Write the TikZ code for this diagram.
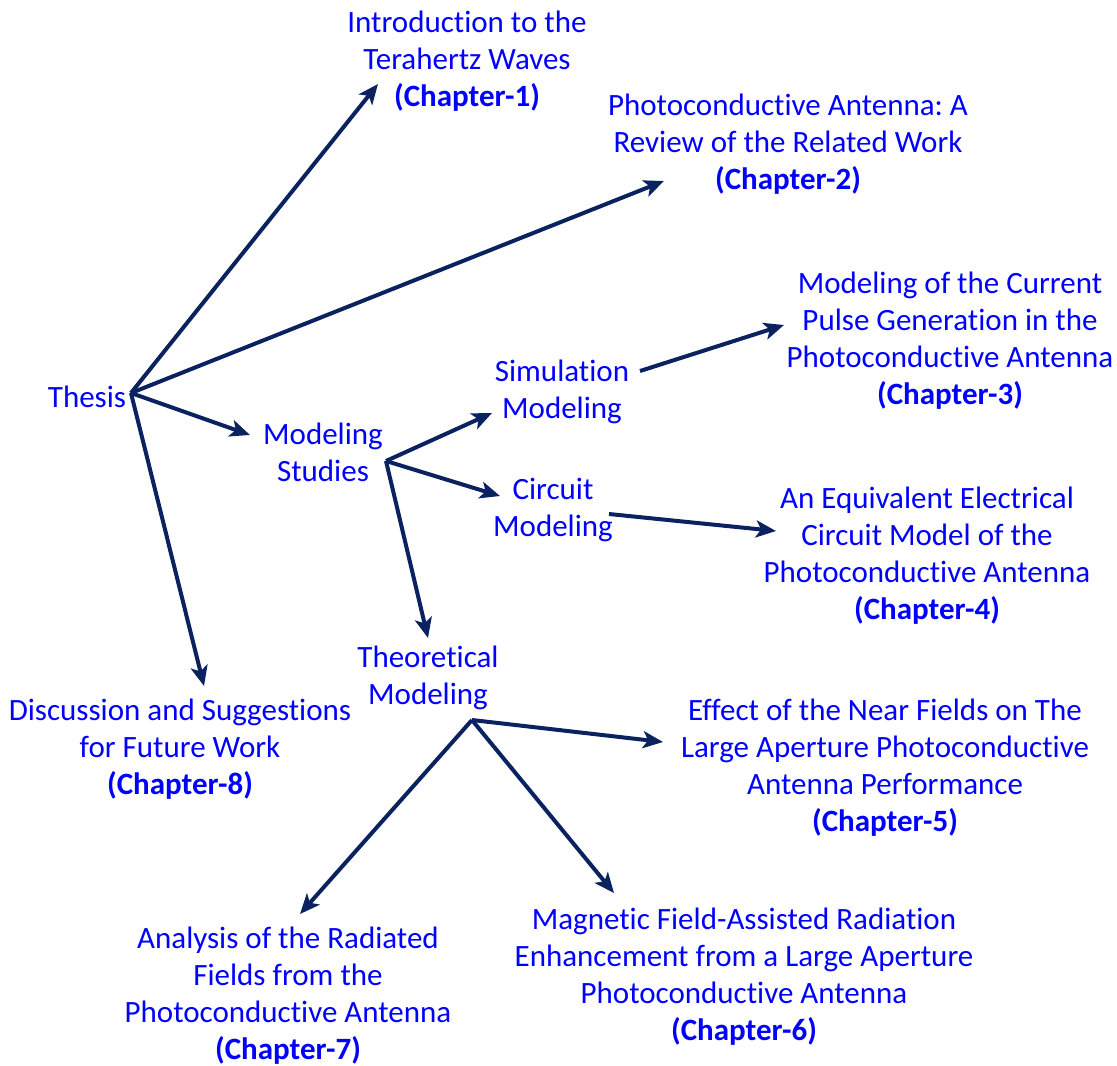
\documentclass[tikz,border=0pt]{standalone}
\usepackage{fontspec}
\setmainfont[Ligatures=NoCommon]{Carlito}
\usetikzlibrary{arrows.meta}
\definecolor{txtblue}{RGB}{0,0,255}
\definecolor{navy}{RGB}{10,34,96}
\frenchspacing
\begin{document}
\begin{tikzpicture}[x=1pt,y=-1pt,
  lbl/.style={text=txtblue, align=center, inner sep=0pt,
    font=\fontsize{31}{37}\selectfont},
  conn/.style={draw=navy, line width=4pt,
    -{Stealth[length=20pt,width=17pt,inset=5pt]}}]
\useasboundingbox (0,0) rectangle (1117,1066);

% text blocks
\node[lbl] (ch1) at (467,61.5) {Introduction to the\\Terahertz Waves\\\textbf{(Chapter-1)}};
\node[lbl] (ch2) at (788,144.5) {Photoconductive Antenna: A\\Review of the Related Work\\\textbf{(Chapter-2)}};
\node[lbl] (ch3) at (950,341) {Modeling of the Current\\Pulse Generation in the\\Photoconductive Antenna\\\textbf{(Chapter-3)}};
\node[lbl] (thesis) at (87,397) {Thesis};
\node[lbl] (sim) at (562,391.5) {Simulation\\Modeling};
\node[lbl] (ms) at (323,452) {Modeling\\Studies};
\node[lbl] (cm) at (553,510) {Circuit\\Modeling};
\node[lbl] (ch4) at (927,555.5) {An Equivalent Electrical\\Circuit Model of the\\Photoconductive Antenna\\\textbf{(Chapter-4)}};
\node[lbl] (tm) at (428,677.5) {Theoretical\\Modeling};
\node[lbl] (ch8) at (180,749) {Discussion and Suggestions\\for Future Work\\\textbf{(Chapter-8)}};
\node[lbl] (ch5) at (885,767.5) {Effect of the Near Fields on The\\Large Aperture Photoconductive\\Antenna Performance\\\textbf{(Chapter-5)}};
\node[lbl] (ch7) at (288,996) {Analysis of the Radiated\\Fields from the\\Photoconductive Antenna\\\textbf{(Chapter-7)}};
\node[lbl] (ch6) at (744,976.5) {Magnetic Field-Assisted Radiation\\Enhancement from a Large Aperture\\Photoconductive Antenna\\\textbf{(Chapter-6)}};

% branching points and arrow ends
\coordinate (hubT) at (131,393);
\coordinate (hubM) at (386,461);
\coordinate (hubR) at (472,720);
\coordinate (tipCh1) at (378,84);
\coordinate (tipCh2) at (664,181);
\coordinate (tipMs) at (250,435);
\coordinate (tipCh8) at (204,686);
\coordinate (tipSim) at (492,413);
\coordinate (tipCm) at (500,496);
\coordinate (tipTm) at (428,638);
\coordinate (srcSim) at (640,371);
\coordinate (tipCh3) at (784,325);
\coordinate (srcCm) at (609,514);
\coordinate (tipCh4) at (776,531);
\coordinate (tipCh5) at (663,742);
\coordinate (tipCh6) at (614,893);
\coordinate (tipCh7) at (300,914);

% connectors from the thesis
\draw[conn] (hubT) -- (tipCh1);
\draw[conn] (hubT) -- (tipCh2);
\draw[conn] (hubT) -- (tipMs);
\draw[conn] (hubT) -- (tipCh8);
% connectors from the modeling studies
\draw[conn] (hubM) -- (tipSim);
\draw[conn] (hubM) -- (tipCm);
\draw[conn] (hubM) -- (tipTm);
% simulation and circuit branches
\draw[conn] (srcSim) -- (tipCh3);
\draw[conn] (srcCm) -- (tipCh4);
% theoretical branches
\draw[conn] (hubR) -- (tipCh5);
\draw[conn] (hubR) -- (tipCh6);
\draw[conn] (hubR) -- (tipCh7);
\end{tikzpicture}
\end{document}
